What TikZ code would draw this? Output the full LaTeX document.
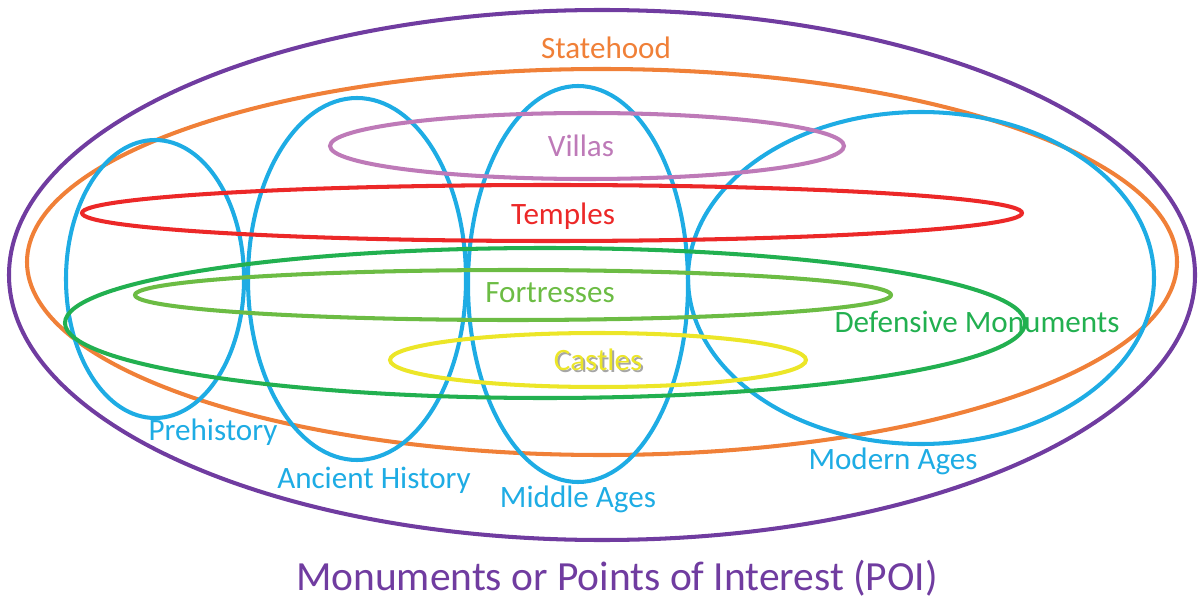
\documentclass[tikz,border=0pt]{standalone}
\usepackage{fontspec}
\setmainfont{Carlito}

\definecolor{poipurple}{RGB}{112,60,160}
\definecolor{stateorange}{RGB}{240,128,56}
\definecolor{ageblue}{RGB}{30,172,228}
\definecolor{villamauve}{RGB}{190,122,184}
\definecolor{templered}{RGB}{236,40,40}
\definecolor{defgreen}{RGB}{34,176,80}
\definecolor{fortgreen}{RGB}{108,188,68}
\definecolor{castleyellow}{RGB}{236,230,40}

\begin{document}
\begin{tikzpicture}[x=0.02cm,y=-0.02cm,
    ring/.style={line width=2.3pt},
    lbl/.style={inner sep=0pt,font=\fontsize{17.7}{20}\selectfont}]
  \useasboundingbox (0,0) rectangle (1203,601);

  % outer sets
  \draw[ring,poipurple]   (602,275) ellipse (593 and 265);
  \draw[ring,stateorange] (602,262) ellipse (575 and 193);

  % ages
  \draw[ring,ageblue] (155,279) ellipse (89 and 139);
  \draw[ring,ageblue] (357,279) ellipse (109 and 181);
  \draw[ring,ageblue] (578,284) ellipse (110 and 198);
  \draw[ring,ageblue] (921,278) ellipse (233 and 166);

  % monument types
  \draw[ring,villamauve]   (587,146) ellipse (257 and 33);
  \draw[ring,templered]    (552,213) ellipse (470 and 28);
  \draw[ring,defgreen]     (545,323) ellipse (480 and 75);
  \draw[ring,fortgreen]    (513,295) ellipse (378 and 25);
  \draw[ring,castleyellow] (598,360) ellipse (208 and 27);

  % labels
  \node[lbl,stateorange]  (statehood) at (606,48)  {Statehood};
  \node[lbl,villamauve]   (villas)    at (581,146) {Villas};
  \node[lbl,templered]    (temples)   at (563,216) {Temples};
  \node[lbl,fortgreen]    (fortress)  at (550,293) {Fortresses};
  \node[lbl,black!35]     (castlesh)  at (600,362) {Castles};
  \node[lbl,castleyellow] (castles)   at (598,360) {Castles};
  \node[lbl,defgreen]     (defensive) at (977,322) {Defensive Monuments};
  \node[lbl,ageblue]      (prehist)   at (213,432) {Prehistory};
  \node[lbl,ageblue]      (ancient)   at (374,480) {Ancient History};
  \node[lbl,ageblue]      (middle)    at (578,499) {Middle Ages};
  \node[lbl,ageblue]      (modern)    at (893,461) {Modern Ages};
  \node[inner sep=0pt,poipurple,font=\fontsize{23.6}{28}\selectfont]
                          (poi)       at (617,578) {Monuments or Points of Interest (POI)};
\end{tikzpicture}
\end{document}
